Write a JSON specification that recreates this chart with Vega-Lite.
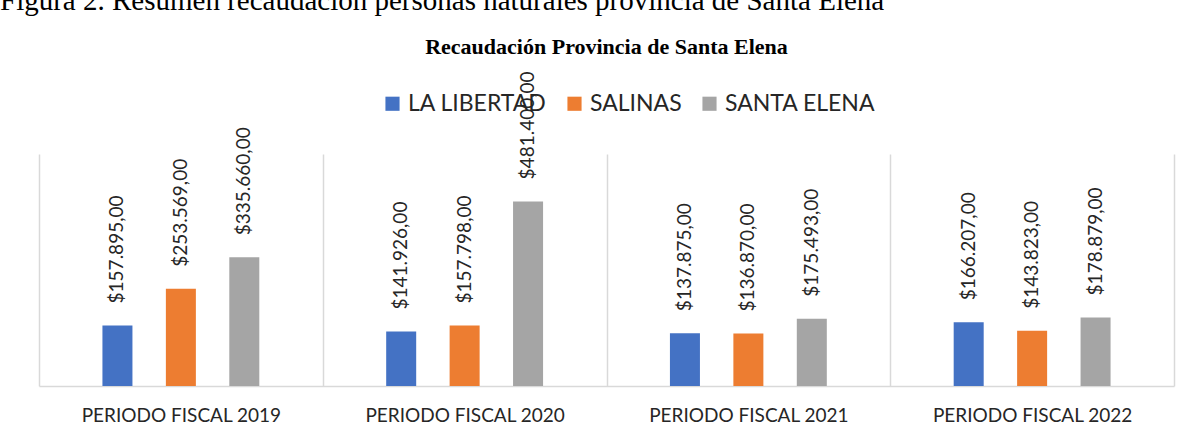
{
  "$schema": "https://vega.github.io/schema/vega-lite/v6.json",
  "background": "white",
  "padding": {"left": 0, "right": 15, "top": -13, "bottom": 0},
  "title": {
    "text": "Figura 2. Resumen recaudación personas naturales provincia de Santa Elena",
    "anchor": "start",
    "frame": "group",
    "dx": -39,
    "font": "Liberation Serif",
    "fontSize": 29,
    "fontWeight": "normal",
    "color": "black",
    "offset": 20
  },
  "vconcat": [
    {
      "width": 1135,
      "height": 232,
      "title": {
        "text": "Recaudación Provincia de Santa Elena",
        "font": "Liberation Serif",
        "fontSize": 22,
        "fontWeight": "bold",
        "anchor": "middle",
        "color": "black",
        "offset": 12
      },
      "data": {
        "values": [
          {"periodo": "PERIODO FISCAL 2019", "canton": "LA LIBERTAD", "valor": 157895},
          {"periodo": "PERIODO FISCAL 2019", "canton": "SALINAS", "valor": 253569},
          {"periodo": "PERIODO FISCAL 2019", "canton": "SANTA ELENA", "valor": 335660},
          {"periodo": "PERIODO FISCAL 2020", "canton": "LA LIBERTAD", "valor": 141926},
          {"periodo": "PERIODO FISCAL 2020", "canton": "SALINAS", "valor": 157798},
          {"periodo": "PERIODO FISCAL 2020", "canton": "SANTA ELENA", "valor": 481400},
          {"periodo": "PERIODO FISCAL 2021", "canton": "LA LIBERTAD", "valor": 137875},
          {"periodo": "PERIODO FISCAL 2021", "canton": "SALINAS", "valor": 136870},
          {"periodo": "PERIODO FISCAL 2021", "canton": "SANTA ELENA", "valor": 175493},
          {"periodo": "PERIODO FISCAL 2022", "canton": "LA LIBERTAD", "valor": 166207},
          {"periodo": "PERIODO FISCAL 2022", "canton": "SALINAS", "valor": 143823},
          {"periodo": "PERIODO FISCAL 2022", "canton": "SANTA ELENA", "valor": 178879}
        ]
      },
      "encoding": {
        "x": {
          "field": "periodo",
          "type": "nominal",
          "sort": null,
          "scale": {"paddingInner": 0, "paddingOuter": 0},
          "axis": {
            "title": null,
            "labelAngle": 0,
            "tickBand": "extent",
            "grid": true,
            "gridColor": "#d9d9d9",
            "gridWidth": 1.5,
            "ticks": false,
            "domainColor": "#d9d9d9",
            "domainWidth": 1.5,
            "labelFont": "Lato",
            "labelFontSize": 19,
            "labelLimit": 0,
            "labelColor": "#262626",
            "labelPadding": 20
          }
        },
        "xOffset": {
          "field": "canton",
          "type": "nominal",
          "scale": {"paddingInner": 0.527, "paddingOuter": 1}
        },
        "y": {
          "field": "valor",
          "type": "quantitative",
          "scale": {"domain": [0, 605000], "nice": false},
          "axis": null
        }
      },
      "layer": [
        {
          "mark": {"type": "bar"},
          "encoding": {
            "color": {
              "field": "canton",
              "type": "nominal",
              "scale": {
                "domain": ["LA LIBERTAD", "SALINAS", "SANTA ELENA"],
                "range": ["#4472C4", "#ED7D31", "#A5A5A5"]
              },
              "legend": {
                "orient": "none",
                "legendX": 342,
                "legendY": -62,
                "direction": "horizontal",
                "title": null,
                "symbolType": "square",
                "symbolSize": 200,
                "symbolStrokeWidth": 0,
                "labelFont": "Lato",
                "labelFontSize": 23,
                "labelColor": "#262626",
                "labelOffset": 4,
                "columnPadding": 16
              }
            }
          }
        },
        {
          "mark": {
            "type": "text",
            "angle": 270,
            "align": "left",
            "baseline": "middle",
            "dx": 22,
            "font": "Lato",
            "fontSize": 19,
            "color": "#262626"
          },
          "encoding": {
            "text": {"field": "valor", "type": "quantitative", "format": "$,.2f"}
          }
        }
      ]
    }
  ],
  "config": {
    "view": {"stroke": null},
    "locale": {
      "number": {
        "decimal": ",",
        "thousands": ".",
        "grouping": [3],
        "currency": ["$", ""]
      }
    }
  }
}
